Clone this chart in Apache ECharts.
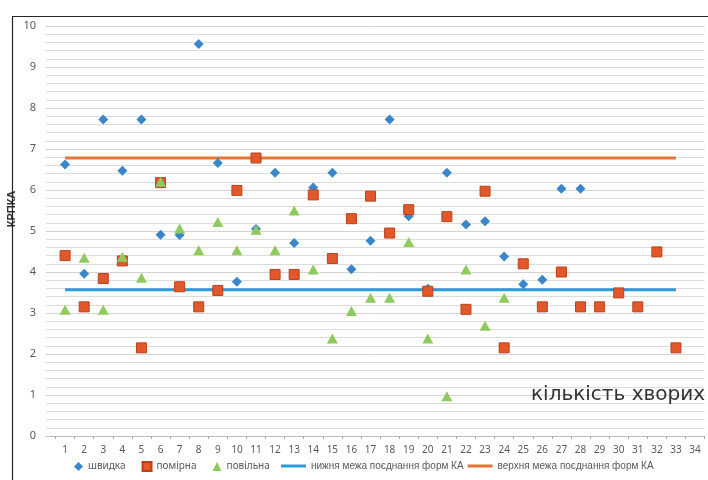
<!DOCTYPE html>
<html>
<head>
<meta charset="utf-8">
<script src="https://cdn.jsdelivr.net/npm/echarts@6/dist/echarts.min.js"></script>
<style>
html,body{margin:0;padding:0;background:#fff;}
#chart{width:708px;height:480px;}
</style>
</head>
<body>
<div id="chart"></div>
<script>
// ---- data ----
var categories = [1,2,3,4,5,6,7,8,9,10,11,12,13,14,15,16,17,18,19,20,21,22,23,24,25,26,27,28,29,30,31,32,33,34];
var yTicks = [0,1,2,3,4,5,6,7,8,9,10];
var seriesNames = ['швидка','помірна','повільна','нижня межа поєднання форм КА','верхня межа поєднання форм КА'];
var fastValues = [6.62,3.96,7.72,6.47,7.72,4.91,4.90,9.56,6.66,3.76,5.05,6.42,4.71,6.06,6.42,4.07,4.76,7.72,5.36,3.59,6.42,5.16,5.24,4.38,3.70,3.81,6.03,6.03];
var moderateValues = [4.40,3.15,3.84,4.27,2.15,6.18,3.64,3.15,3.55,5.99,6.78,3.94,3.94,5.88,4.33,5.30,5.85,4.95,5.52,3.53,5.35,3.09,5.97,2.15,4.20,3.15,4.00,3.15,3.15,3.49,3.15,4.49,2.15];
var slowValues = [3.08,4.35,3.08,4.37,3.86,6.20,5.06,4.53,5.22,4.53,5.03,4.53,5.50,4.06,2.38,3.05,3.37,3.37,4.73,2.38,0.97,4.06,2.69,3.37];
var limitCats = [1,33];
var lowerLimit = 3.57;
var upperLimit = 6.78;
var yAxisTitle = 'КРПКА';
var xAxisTitle = 'кількість хворих';

function pts(vals){ return vals.map(function(v,i){ return [categories[i], v]; }); }
function limitLine(v){ return limitCats.map(function(c){ return [c, v]; }); }

var chart = echarts.init(document.getElementById('chart'), null, {renderer:'canvas'});
var baseFont = 'Noto Sans';
var option = {
  backgroundColor:'#ffffff',
  animation:false,
  textStyle:{fontFamily:baseFont},
  grid:{left:46, right:3.4, top:26, bottom:44, containLabel:false},
  xAxis:{
    type:'value', min:0, max:34.5,
    axisLine:{show:true, lineStyle:{color:'#bfbfbf', width:1}},
    axisTick:{show:true, length:3, lineStyle:{color:'#a6a6a6'},
      customValues: [0.5].concat(categories.map(function(c){return c+0.5;}))},
    axisLabel:{color:'#595959', fontSize:10, margin:9, fontFamily:baseFont,
      customValues: categories.slice()},
    splitLine:{show:false}
  },
  yAxis:{
    type:'value', min:0, max:10, interval:1,
    axisLine:{show:false}, axisTick:{show:false},
    axisLabel:{color:'#595959', fontSize:11, margin:10, fontFamily:baseFont,
      formatter:function(v){ return yTicks.indexOf(v)>=0 ? String(v) : ''; }},
    splitLine:{show:true, lineStyle:{color:'#d4d4d4', width:1}},
    minorTick:{show:false, splitNumber:5},
    minorSplitLine:{show:true, lineStyle:{color:'#dcdcdc', width:1}}
  },
  legend:[
    {
      left:74, top:461, padding:0, itemGap:16, itemWidth:9, itemHeight:9,
      textStyle:{color:'#595959', fontSize:10, fontFamily:baseFont},
      data:[
        {name:seriesNames[0], icon:'diamond'},
        {name:seriesNames[1], icon:'rect'},
        {name:seriesNames[2], icon:'triangle'}
      ]
    },
    {
      left:281, top:461, padding:0, itemGap:4, itemWidth:25, itemHeight:3,
      textStyle:{color:'#595959', fontSize:10, fontFamily:'Liberation Sans'},
      data:[
        {name:seriesNames[3], icon:'rect'},
        {name:seriesNames[4], icon:'rect'}
      ]
    }
  ],
  graphic:[
    {type:'rect', left:10, top:14, z:100, silent:true,
      shape:{x:0,y:0,width:720,height:500},
      style:{fill:null, stroke:'#262626', lineWidth:1.2}},
    {type:'text', left:531, top:385, z:50,
      style:{text:xAxisTitle, fontSize:20, fill:'#333333', fontFamily:'DejaVu Sans'}},
    {type:'text', x:12, y:209, rotation:Math.PI/2, z:50,
      style:{text:yAxisTitle, fontSize:11, fontWeight:'bold', fill:'#333333', fontFamily:'Liberation Sans',
        align:'center', verticalAlign:'middle'}}
  ],
  series:[
    {name:seriesNames[3], type:'line', data:limitLine(lowerLimit), symbol:'none', z:2,
      lineStyle:{color:'#2e9ad8', width:3}, itemStyle:{color:'#2e9ad8'}},
    {name:seriesNames[4], type:'line', data:limitLine(upperLimit), symbol:'none', z:2,
      lineStyle:{color:'#e47636', width:3}, itemStyle:{color:'#e47636'}},
    {name:seriesNames[0], type:'scatter', data:pts(fastValues), symbol:'diamond', symbolSize:[10,10], z:3,
      itemStyle:{color:'#3a86c8', opacity:1}},
    {name:seriesNames[1], type:'scatter', data:pts(moderateValues), symbol:'rect', symbolSize:[10,10], z:4,
      itemStyle:{color:'#e2582a', borderColor:'#b9421d', borderWidth:1, opacity:1}},
    {name:seriesNames[2], type:'scatter', data:pts(slowValues), symbol:'triangle', symbolSize:[11,10], z:5,
      itemStyle:{color:'#8fca5e', opacity:1}}
  ]
};
chart.setOption(option);
</script>
</body>
</html>
